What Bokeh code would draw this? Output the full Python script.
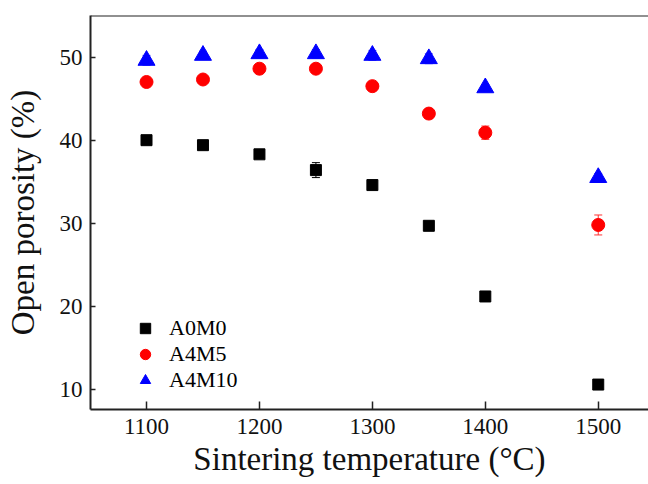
from bokeh.plotting import figure
from bokeh.models import ColumnDataSource, Whisker, FixedTicker, Span, Range1d, Legend, LegendItem
from bokeh.embed import file_html
from bokeh.resources import INLINE

# Data
temperature = [1100, 1150, 1200, 1250, 1300, 1350, 1400, 1500]
a0m0 = [40.0, 39.4, 38.3, 36.4, 34.6, 29.7, 21.2, 10.6]
a0m0_err = [0.4, 0.4, 0.4, 0.9, 0.3, 0.3, 0.3, 0.3]
a4m5 = [47.0, 47.3, 48.6, 48.6, 46.5, 43.2, 40.9, 29.8]
a4m5_err = [0.3, 0.3, 0.3, 0.3, 0.3, 0.6, 0.8, 1.2]
a4m10 = [49.6, 50.2, 50.4, 50.4, 50.2, 49.8, 46.3, 35.5]
a4m10_err = [0.6, 0.5, 0.5, 0.5, 0.6, 0.6, 0.4, 0.5]
x_ticks = [1100, 1200, 1300, 1400, 1500]
y_ticks = [10, 20, 30, 40, 50]

FONT = "Liberation Serif"

p = figure(width=648, height=484, output_backend="svg", toolbar_location=None,
           x_range=Range1d(1050.4, 1544.5), y_range=Range1d(7.6, 55.0),
           min_border_left=90, min_border_top=15, min_border_right=0, min_border_bottom=75)
p.outline_line_color = None
p.xgrid.visible = False
p.ygrid.visible = False
p.background_fill_color = "white"
p.border_fill_color = "white"

series = [
    ("A0M0", a0m0, a0m0_err, "square", "#000000", "#000000", 11),
    ("A4M5", a4m5, a4m5_err, "circle", "#ff0000", "#ff3333", 13),
    ("A4M10", a4m10, a4m10_err, "triangle", "#0000ff", "#5555ff", 17),
]

items = []
for name, vals, errs, marker, color, ecolor, size in series:
    src = ColumnDataSource(dict(
        x=temperature, y=vals,
        lo=[v - e for v, e in zip(vals, errs)],
        hi=[v + e for v, e in zip(vals, errs)],
    ))
    w = Whisker(source=src, base="x", lower="lo", upper="hi", line_color=ecolor, line_width=1)
    w.upper_head.size = 8
    w.lower_head.size = 8
    w.upper_head.line_color = ecolor
    w.lower_head.line_color = ecolor
    p.add_layout(w)
    r = p.scatter("x", "y", source=src, marker=marker, size=size,
                  fill_color=color, line_color=color)
    items.append(LegendItem(label=name, renderers=[r]))

legend = Legend(items=items, location=(42, 16), glyph_width=26, glyph_height=26,
                spacing=0, padding=0, margin=0, label_standoff=11,
                border_line_color=None, background_fill_alpha=0,
                label_text_font=FONT, label_text_font_size="22px", label_text_color="black")
p.add_layout(legend, "center")

top_line = Span(location=55.0, dimension="width", line_color="#222222", line_width=2)
p.add_layout(top_line)

for ax in (p.xaxis[0], p.yaxis[0]):
    ax.axis_line_color = "#222222"
    ax.axis_line_width = 2
    ax.major_tick_line_color = "#222222"
    ax.major_tick_line_width = 1.5
    ax.minor_tick_line_color = None
    ax.major_label_text_font = FONT
    ax.major_label_text_font_size = "23px"
    ax.major_label_text_color = "#111111"
    ax.axis_label_text_font = FONT
    ax.axis_label_text_font_size = "33px"
    ax.axis_label_text_font_style = "normal"
    ax.axis_label_text_color = "#111111"

p.xaxis.ticker = FixedTicker(ticks=x_ticks)
p.yaxis.ticker = FixedTicker(ticks=y_ticks)
p.xaxis.major_tick_in = 8
p.xaxis.major_tick_out = 0
p.yaxis.major_tick_in = 5
p.yaxis.major_tick_out = 0
p.xaxis.major_label_standoff = 9
p.yaxis.major_label_standoff = 8
p.xaxis.axis_label = "Sintering temperature (°C)"
p.yaxis.axis_label = "Open porosity (%)"
p.xaxis.axis_label_standoff = 4
p.yaxis.axis_label_standoff = 16

open("out.html", "w").write(file_html(p, INLINE))
